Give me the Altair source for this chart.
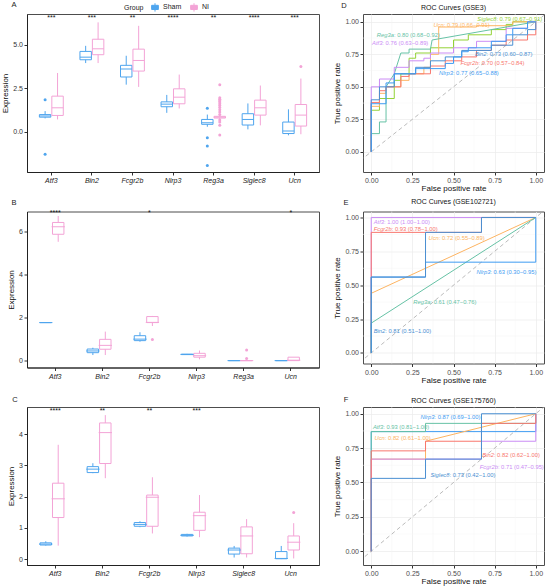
import altair as alt
import pandas as pd

FONT = "Liberation Sans"
GROUPS = ["Sham", "NI"]
GROUP_COLORS = ["#4FA5EE", "#F3A3D6"]

# ---------------- Panel A ----------------
A_genes = ["Atf3", "Bin2", "Fcgr2b", "Nlrp3", "Reg3a", "Siglec8", "Ucn"]
A_sham_lo  = [0.78, 3.96, 2.72, 1.10, 0.30, 0.15, -0.19]
A_sham_q1  = [0.85, 4.15, 3.16, 1.45, 0.44, 0.40, -0.09]
A_sham_med = [0.92, 4.30, 3.62, 1.60, 0.53, 0.72, 0.06]
A_sham_q3  = [1.00, 4.63, 3.83, 1.73, 0.72, 1.05, 0.57]
A_sham_hi  = [1.20, 4.95, 4.38, 2.13, 1.00, 1.64, 1.30]
A_ni_lo    = [0.72, 3.96, 2.59, 1.35, 0.75, 0.38, -0.13]
A_ni_q1    = [0.95, 4.44, 3.50, 1.62, 0.80, 0.97, 0.34]
A_ni_med   = [1.39, 4.78, 4.11, 2.00, 0.85, 1.39, 0.97]
A_ni_q3    = [2.06, 5.33, 4.76, 2.48, 0.90, 1.83, 1.58]
A_ni_hi    = [3.39, 6.30, 6.10, 3.30, 0.95, 2.67, 3.07]
A_out_gene  = ["Atf3", "Atf3", "Reg3a", "Reg3a", "Reg3a", "Reg3a",
               "Reg3a", "Reg3a", "Reg3a", "Reg3a", "Reg3a", "Reg3a", "Reg3a", "Reg3a",
               "Reg3a", "Reg3a", "Reg3a", "Reg3a", "Reg3a", "Reg3a", "Reg3a", "Ucn"]
A_out_group = ["Sham", "Sham", "Sham", "Sham", "Sham", "Sham",
               "NI", "NI", "NI", "NI", "NI", "NI", "NI", "NI",
               "NI", "NI", "NI", "NI", "NI", "NI", "NI", "NI"]
A_out_value = [1.85, -1.28, 1.37, -0.33, -0.80, -1.92,
               2.72, 1.96, 1.88, 1.80, 1.72, 1.62, 1.52, 1.40,
               1.28, 1.15, 1.00, 0.69, 0.57, 0.38, -0.17, 3.77]
A_sig = ["***", "***", "**", "****", "**", "****", "***"]

# ---------------- Panel B ----------------
B_genes = ["Atf3", "Bin2", "Fcgr2b", "Nlrp3", "Reg3a", "Ucn"]
B_sham_lo  = [1.77, 0.26, 0.88, 0.27, 0.0, 0.0]
B_sham_q1  = [1.77, 0.37, 0.93, 0.28, 0.0, 0.0]
B_sham_med = [1.77, 0.45, 1.00, 0.29, 0.0, 0.0]
B_sham_q3  = [1.77, 0.54, 1.16, 0.30, 0.0, 0.0]
B_sham_hi  = [1.77, 0.60, 1.32, 0.31, 0.0, 0.0]
B_ni_lo    = [5.53, 0.26, 1.61, 0.06, 0.0, 0.0]
B_ni_q1    = [5.88, 0.53, 1.77, 0.16, 0.0, 0.0]
B_ni_med   = [6.23, 0.71, 1.78, 0.23, 0.0, 0.02]
B_ni_q3    = [6.43, 0.99, 2.05, 0.34, 0.0, 0.16]
B_ni_hi    = [6.73, 1.35, 2.08, 0.47, 0.0, 0.16]
B_out_gene  = ["Fcgr2b", "Reg3a", "Reg3a"]
B_out_group = ["NI", "NI", "NI"]
B_out_value = [0.98, 0.50, 0.10]
B_sig = ["****", "", "*", "", "", "*"]

# ---------------- Panel C ----------------
C_genes = ["Atf3", "Bin2", "Fcgr2b", "Nlrp3", "Siglec8", "Ucn"]
C_sham_lo  = [0.43, 2.75, 1.02, 0.72, 0.05, 0.00]
C_sham_q1  = [0.45, 2.77, 1.05, 0.74, 0.16, 0.01]
C_sham_med = [0.48, 2.88, 1.11, 0.76, 0.29, 0.02]
C_sham_q3  = [0.52, 2.96, 1.17, 0.79, 0.35, 0.24]
C_sham_hi  = [0.57, 3.07, 1.21, 0.81, 0.42, 0.42]
C_ni_lo    = [0.43, 2.59, 0.82, 0.70, 0.05, 0.02]
C_ni_q1    = [1.33, 3.06, 1.05, 0.92, 0.17, 0.29]
C_ni_med   = [1.93, 4.05, 1.98, 1.39, 0.74, 0.54]
C_ni_q3    = [2.43, 4.36, 2.05, 1.50, 1.03, 0.74]
C_ni_hi    = [3.66, 4.61, 2.62, 2.05, 1.28, 1.15]
C_out_gene  = ["Ucn"]
C_out_group = ["NI"]
C_out_value = [1.49]
C_sig = ["****", "**", "**", "***", "", ""]

# ---------------- ROC colours ----------------
RED, ORANGE, TEAL, PURPLE = "#F8766D", "#FDB462", "#66C2A5", "#CB8CF5"
BLUE, STEEL, GREEN = "#3E9BF2", "#4A8FD2", "#93D236"

# ---------------- Panel D (GSE3) ----------------
D_names = ["Siglec8", "Ucn", "Reg3a", "Atf3", "Fcgr2b", "Bin2", "Nlrp3"]
D_colors = [GREEN, ORANGE, TEAL, PURPLE, RED, STEEL, BLUE]
D_fpr = [
    [0, 0, 0.05, 0.05, 0.14, 0.14, 0.18, 0.18, 0.23, 0.23, 0.27, 0.27, 0.36, 0.36, 0.50, 0.50, 0.59, 0.59, 0.73, 0.73, 0.82, 0.82, 0.86, 0.86, 1.0],
    [0, 0, 0.05, 0.05, 0.09, 0.09, 0.18, 0.18, 0.23, 0.23, 0.32, 0.32, 0.36, 0.36, 0.41, 0.41, 0.64, 0.64, 0.86, 0.86, 1.0],
    [0, 0, 0.05, 0.05, 0.09, 0.09, 0.14, 0.18, 0.23, 0.23, 0.36, 0.37, 1.0],
    [0, 0, 0.05, 0.05, 0.14, 0.14, 0.23, 0.23, 0.32, 0.32, 0.36, 0.36, 0.50, 0.50, 0.64, 0.64, 0.82, 0.82, 0.95, 0.95, 1.0],
    [0, 0, 0.05, 0.05, 0.09, 0.09, 0.18, 0.18, 0.23, 0.23, 0.36, 0.36, 0.45, 0.45, 0.55, 0.55, 0.64, 0.64, 0.73, 0.73, 0.82, 0.82, 0.95, 0.95, 1.0, 1.0],
    [0, 0, 0.05, 0.05, 0.14, 0.14, 0.27, 0.27, 0.36, 0.36, 0.45, 0.45, 0.55, 0.55, 0.73, 0.73, 0.86, 0.86, 0.95, 0.95, 1.0, 1.0],
    [0, 0, 0.09, 0.09, 0.14, 0.14, 0.27, 0.27, 0.45, 0.45, 0.50, 0.50, 0.55, 0.55, 0.59, 0.59, 0.73, 0.73, 0.82, 0.82, 0.86, 0.86, 0.95, 0.95, 1.0],
]
D_tpr = [
    [0, 0.32, 0.32, 0.41, 0.41, 0.55, 0.55, 0.60, 0.60, 0.72, 0.72, 0.76, 0.76, 0.80, 0.80, 0.86, 0.86, 0.90, 0.90, 0.94, 0.94, 0.98, 0.98, 1.0, 1.0],
    [0, 0.35, 0.35, 0.45, 0.45, 0.50, 0.50, 0.55, 0.55, 0.60, 0.60, 0.65, 0.65, 0.75, 0.75, 0.96, 0.96, 0.97, 0.97, 1.0, 1.0],
    [0, 0.14, 0.14, 0.23, 0.23, 0.50, 0.60, 0.76, 0.76, 0.79, 0.79, 0.86, 1.0],
    [0, 0.50, 0.50, 0.56, 0.56, 0.65, 0.65, 0.70, 0.70, 0.72, 0.72, 0.76, 0.76, 0.80, 0.80, 0.85, 0.85, 0.95, 0.95, 1.0, 1.0],
    [0, 0.38, 0.38, 0.47, 0.47, 0.50, 0.50, 0.58, 0.58, 0.60, 0.60, 0.66, 0.66, 0.70, 0.70, 0.73, 0.73, 0.78, 0.78, 0.82, 0.82, 0.86, 0.86, 0.90, 0.90, 1.0],
    [0, 0.40, 0.40, 0.50, 0.50, 0.60, 0.60, 0.65, 0.65, 0.70, 0.70, 0.73, 0.73, 0.78, 0.78, 0.82, 0.82, 0.90, 0.90, 0.94, 0.94, 1.0],
    [0, 0.37, 0.37, 0.53, 0.53, 0.60, 0.60, 0.64, 0.64, 0.68, 0.68, 0.73, 0.73, 0.77, 0.77, 0.80, 0.80, 0.85, 0.85, 0.90, 0.90, 0.95, 0.95, 1.0, 1.0],
]
D_rest = [": 0.79 (0.67\u22120.91)", ": 0.79 (0.66\u22120.91)", ": 0.80 (0.68\u22120.92)",
          ": 0.76 (0.63\u22120.89)", ": 0.70 (0.57\u22120.84)", ": 0.73 (0.60\u22120.87)",
          ": 0.77 (0.65\u22120.88)"]
D_lab_x = [0.645, 0.378, 0.034, 0.005, 0.542, 0.630, 0.412]
D_lab_y = [1.024, 0.974, 0.900, 0.837, 0.680, 0.750, 0.605]

# ---------------- Panel E (GSE102721) ----------------
E_names = ["Atf3", "Fcgr2b", "Ucn", "Reg3a", "Nlrp3", "Bin2"]
E_colors = [PURPLE, RED, ORANGE, TEAL, BLUE, STEEL]
E_fpr = [
    [0, 0, 1.0],
    [0, 0, 0.67, 0.67, 1.0],
    [0, 0, 1.0],
    [0, 0, 1.0],
    [0, 0, 0.33, 0.33, 1.0, 1.0],
    [0, 0, 0.33, 0.33, 0.67, 0.67, 1.0],
]
E_tpr = [
    [0, 1.0, 1.0],
    [0, 0.89, 0.89, 1.0, 1.0],
    [0, 0.44, 1.0],
    [0, 0.22, 1.0],
    [0, 0.56, 0.56, 0.67, 0.67, 1.0],
    [0, 0.56, 0.56, 0.89, 0.89, 1.0, 1.0],
]
E_rest = [": 1.00 (1.00\u22121.00)", ": 0.93 (0.78\u22121.00)", ": 0.72 (0.55\u22120.89)",
          ": 0.61 (0.47\u22120.76)", ": 0.63 (0.30\u22120.95)", ": 0.81 (0.51\u22121.00)"]
E_lab_x = [0.015, 0.015, 0.348, 0.256, 0.640, 0.015]
E_lab_y = [0.968, 0.915, 0.845, 0.378, 0.600, 0.163]

# ---------------- Panel F (GSE175760) ----------------
F_names = ["Nlrp3", "Atf3", "Ucn", "Fcgr2b", "Bin2", "Siglec8"]
F_colors = [BLUE, TEAL, ORANGE, PURPLE, RED, STEEL]
F_fpr = [
    [0, 0, 1.0, 1.0],
    [0, 0, 0.33, 0.33, 1.0, 1.0],
    [0, 0, 0.33, 0.33, 1.0],
    [0, 0, 0.67, 0.67, 1.0, 1.0],
    [0, 0, 0.33, 0.33, 0.67, 0.67, 1.0, 1.0],
    [0, 0, 0.33, 0.33, 0.67, 0.67, 1.0],
]
F_tpr = [
    [0, 0.87, 0.87, 1.0],
    [0, 0.87, 0.87, 0.93, 0.93, 1.0],
    [0, 0.67, 0.67, 0.80, 1.0],
    [0, 0.67, 0.67, 0.80, 0.80, 1.0],
    [0, 0.73, 0.73, 0.80, 0.80, 0.93, 0.93, 1.0],
    [0, 0.53, 0.53, 0.67, 0.67, 1.0, 1.0],
]
F_rest = [": 0.87 (0.69\u22121.00)", ": 0.93 (0.81\u22121.00)", ": 0.82 (0.61\u22121.00)",
          ": 0.71 (0.47\u22120.95)", ": 0.82 (0.62\u22121.00)", ": 0.73 (0.42\u22121.00)"]
F_lab_x = [0.300, 0.010, 0.020, 0.660, 0.675, 0.360]
F_lab_y = [0.975, 0.905, 0.825, 0.615, 0.700, 0.553]

MAJOR = [0, 0.25, 0.5, 0.75, 1.0]
MINOR = [0.125, 0.375, 0.625, 0.875]
DIAG = [-0.3, 1.3]

# Arial-like advance widths (per 1000 em) for measuring italic gene names
AW = {"A": 667, "B": 667, "F": 611, "N": 722, "R": 722, "S": 667, "U": 722,
      "a": 556, "b": 556, "c": 500, "e": 556, "f": 278, "g": 556, "i": 222,
      "l": 222, "n": 556, "p": 556, "r": 333, "t": 278}


def text_w(s, size):
    return sum(AW.get(ch, 556) for ch in s) * size / 1000.0


BOX_W = 292
ROC_W = 181
LAB_FS = 5.8
SYMBOL = "M0,-1V-0.5M0,0.5V1M-0.8,-0.5H0.8V0.5H-0.8ZM-0.8,0H0.8"


def letter_layer(letter, lx, ly):
    return alt.Chart(pd.DataFrame({"t": [letter]})).mark_text(
        fontSize=7.5, color="#222222", align="center", baseline="middle"
    ).encode(text="t:N", x=alt.value(lx), y=alt.value(ly))


def box_panel(genes, sham, ni, og, ogr, ov, sig, sig_y, ydom, yticks, yfmt,
              letter, lpos, height, legend):
    rows = []
    for i, g in enumerate(genes):
        for grp, st in (("Sham", sham), ("NI", ni)):
            rows.append(dict(gene=g, group=grp, lo=st[0][i], q1=st[1][i],
                             med=st[2][i], q3=st[3][i], hi=st[4][i]))
    df = pd.DataFrame(rows)
    odf = pd.DataFrame({"gene": og, "group": ogr, "val": ov})
    sdf = pd.DataFrame({"gene": genes, "sig": sig, "y": [sig_y] * len(genes)})

    n = len(genes)
    step = BOX_W / (n + 0.2)
    sub = step / (2 - 0.08 + 2 * 0.67)
    bar_w = sub * (1 - 0.08)

    xsc = alt.Scale(domain=genes, paddingInner=0, paddingOuter=0.1)
    xax = alt.Axis(title=None, labelFontStyle="italic", labelAngle=0,
                   labelFontSize=7, labelColor="#222222", grid=False)
    xoff = alt.XOffset("group:N", sort=GROUPS,
                       scale=alt.Scale(domain=GROUPS, paddingInner=0.08, paddingOuter=0.67))
    ysc = alt.Scale(domain=ydom, nice=False, zero=False)
    yax = alt.Axis(values=yticks, format=yfmt, title="Expression", grid=False,
                   labelColor="#333333")
    csc = alt.Scale(domain=GROUPS, range=GROUP_COLORS)
    X = alt.X("gene:N", sort=genes, scale=xsc, axis=xax)

    if legend:
        leg = alt.Legend(
            orient="none", legendX=97, legendY=-12, direction="horizontal",
            title="Group", titleOrient="left", titleFontSize=7,
            titleFontWeight="normal", titleColor="#222222",
            labelFontSize=7, labelColor="#222222", symbolType=SYMBOL,
            symbolSize=70, symbolStrokeWidth=1, symbolFillColor="transparent",
            columnPadding=6, labelOffset=3, titlePadding=6, padding=0)
    else:
        leg = None

    box = alt.Chart(df).mark_bar(filled=False, strokeWidth=1).encode(
        x=X, xOffset=xoff,
        y=alt.Y("q1:Q", scale=ysc, axis=yax, title="Expression"),
        y2="q3:Q",
        stroke=alt.Stroke("group:N", scale=csc, legend=leg),
    )
    whisk_lo = alt.Chart(df).mark_rule(strokeWidth=1).encode(
        x=X, xOffset=xoff,
        y=alt.Y("lo:Q", scale=ysc, axis=yax, title="Expression"),
        y2="q1:Q",
        stroke=alt.Stroke("group:N", scale=csc, legend=leg),
    )
    whisk_hi = alt.Chart(df).mark_rule(strokeWidth=1).encode(
        x=X, xOffset=xoff,
        y=alt.Y("q3:Q", scale=ysc, axis=yax, title="Expression"),
        y2="hi:Q",
        stroke=alt.Stroke("group:N", scale=csc, legend=leg),
    )
    med = alt.Chart(df).mark_tick(thickness=1, size=bar_w, opacity=1).encode(
        x=X, xOffset=xoff,
        y=alt.Y("med:Q", scale=ysc, axis=yax, title="Expression"),
        color=alt.Color("group:N", scale=csc, legend=None),
    )
    outl = alt.Chart(odf).mark_circle(size=9, opacity=1).encode(
        x=X, xOffset=xoff,
        y=alt.Y("val:Q", scale=ysc, axis=yax, title="Expression"),
        color=alt.Color("group:N", scale=csc, legend=None),
    )
    sigt = alt.Chart(sdf).mark_text(fontSize=7, color="#111111", baseline="middle").encode(
        x=X,
        y=alt.Y("y:Q", scale=ysc, axis=yax, title="Expression"),
        text="sig:N",
    )
    lay = alt.layer(box, whisk_lo, whisk_hi, med, outl, sigt, letter_layer(letter, *lpos))
    return lay.properties(width=BOX_W, height=height)


def roc_panel(names, colors, fprs, tprs, rest, lab_x, lab_y, ydom, height,
              title, title_y, letter, lpos):
    xs = alt.Scale(domain=[-0.05, 1.05], nice=False, zero=False)
    ys = alt.Scale(domain=ydom, nice=False, zero=False)
    xax = alt.Axis(values=MAJOR, format=".2f", title="False positive rate", grid=True,
                   gridColor="#EBEBEB", gridWidth=0.7, domain=False, titlePadding=1)
    yax = alt.Axis(values=MAJOR, format=".2f", title="True positive rate", grid=True,
                   gridColor="#EBEBEB", gridWidth=0.7, domain=False)

    rows = []
    for nm, c, fx, ty in zip(names, colors, fprs, tprs):
        for k, (a, b) in enumerate(zip(fx, ty)):
            rows.append(dict(curve=nm, col=c, idx=k, fpr=a, tpr=b))
    cdf = pd.DataFrame(rows)

    px_per_unit = ROC_W / 1.1
    ldf = pd.DataFrame({
        "gene": names, "rest": rest, "col": colors,
        "xb": [x0 + text_w(g, LAB_FS) / px_per_unit for g, x0 in zip(names, lab_x)],
        "y": lab_y,
    })
    mdf = pd.DataFrame({"v": MINOR})
    ddf = pd.DataFrame({"d": DIAG})

    minor_x = alt.Chart(mdf).mark_rule(color="#F4F4F4", strokeWidth=0.5).encode(
        x=alt.X("v:Q", scale=xs, axis=xax, title="False positive rate"))
    minor_y = alt.Chart(mdf).mark_rule(color="#F4F4F4", strokeWidth=0.5).encode(
        y=alt.Y("v:Q", scale=ys, axis=yax, title="True positive rate"))
    diag = alt.Chart(ddf).mark_line(color="#AAAAAA", strokeDash=[4, 3], strokeWidth=0.8,
                                    clip=True).encode(
        x=alt.X("d:Q", scale=xs, axis=xax, title="False positive rate"),
        y=alt.Y("d:Q", scale=ys, axis=yax, title="True positive rate"))
    lines = alt.Chart(cdf).mark_line(strokeWidth=1, clip=True).encode(
        x=alt.X("fpr:Q", scale=xs, axis=xax, title="False positive rate"),
        y=alt.Y("tpr:Q", scale=ys, axis=yax, title="True positive rate"),
        detail="curve:N",
        order="idx:Q",
        color=alt.Color("col:N", scale=None),
    )
    gene_t = alt.Chart(ldf).mark_text(align="right", baseline="middle", fontSize=LAB_FS,
                                      fontStyle="italic").encode(
        x=alt.X("xb:Q", scale=xs, axis=xax, title="False positive rate"),
        y=alt.Y("y:Q", scale=ys, axis=yax, title="True positive rate"),
        text="gene:N", color=alt.Color("col:N", scale=None))
    rest_t = alt.Chart(ldf).mark_text(align="left", baseline="middle", fontSize=LAB_FS).encode(
        x=alt.X("xb:Q", scale=xs, axis=xax, title="False positive rate"),
        y=alt.Y("y:Q", scale=ys, axis=yax, title="True positive rate"),
        text="rest:N", color=alt.Color("col:N", scale=None))
    ttl = alt.Chart(pd.DataFrame({"t": [title]})).mark_text(
        fontSize=7, color="#111111", align="center", baseline="middle"
    ).encode(text="t:N", x=alt.value(ROC_W / 2), y=alt.value(title_y))
    lay = alt.layer(minor_x, minor_y, diag, lines, gene_t, rest_t, ttl,
                    letter_layer(letter, *lpos))
    return lay.properties(width=ROC_W, height=height)


A = box_panel(A_genes,
              [A_sham_lo, A_sham_q1, A_sham_med, A_sham_q3, A_sham_hi],
              [A_ni_lo, A_ni_q1, A_ni_med, A_ni_q3, A_ni_hi],
              A_out_gene, A_out_group, A_out_value, A_sig, 6.55,
              [-2.3, 6.78], [0, 2.5, 5.0], ".1f", "A", (-13, -9), 158, True)
B = box_panel(B_genes,
              [B_sham_lo, B_sham_q1, B_sham_med, B_sham_q3, B_sham_hi],
              [B_ni_lo, B_ni_q1, B_ni_med, B_ni_q3, B_ni_hi],
              B_out_gene, B_out_group, B_out_value, B_sig, 6.88,
              [-0.32, 6.94], [0, 2, 4, 6], "d", "B", (-13, -9), 156, False)
C = box_panel(C_genes,
              [C_sham_lo, C_sham_q1, C_sham_med, C_sham_q3, C_sham_hi],
              [C_ni_lo, C_ni_q1, C_ni_med, C_ni_q3, C_ni_hi],
              C_out_gene, C_out_group, C_out_value, C_sig, 4.75,
              [-0.19, 4.87], [0, 1, 2, 3, 4], "d", "C", (-12, -7), 158, False)

D = roc_panel(D_names, D_colors, D_fpr, D_tpr, D_rest, D_lab_x, D_lab_y,
              [-0.155, 1.06], 158, "ROC Curves (GSE3)", -6, "D", (-19, -8))
E = roc_panel(E_names, E_colors, E_fpr, E_tpr, E_rest, E_lab_x, E_lab_y,
              [-0.078, 1.044], 152, "ROC Curves (GSE102721)", -10, "E", (-17, -9))
F = roc_panel(F_names, F_colors, F_fpr, F_tpr, F_rest, F_lab_x, F_lab_y,
              [-0.10, 1.049], 158, "ROC Curves (GSE175760)", -6, "F", (-17, -7))

chart = alt.concat(A, D, B, E, C, F, columns=2, bounds="flush",
                   spacing={"row": 39.5, "column": 44}).resolve_scale(
    color="independent", stroke="independent"
).resolve_legend(
    color="independent", stroke="independent"
).properties(
    padding={"left": 1, "top": 0, "right": 0, "bottom": 0}
).configure(font=FONT).configure_view(
    stroke="#4D4D4D", strokeWidth=1
).configure_axis(
    labelFont=FONT, titleFont=FONT, labelFontSize=7, titleFontSize=8,
    titleFontWeight="normal", titleColor="#111111", labelColor="#4D4D4D",
    tickColor="#333333", domainColor="#222222", tickSize=3, labelPadding=1.5,
    titlePadding=3
)

chart.save("out.html", embed_options={"renderer": "svg", "actions": False})
